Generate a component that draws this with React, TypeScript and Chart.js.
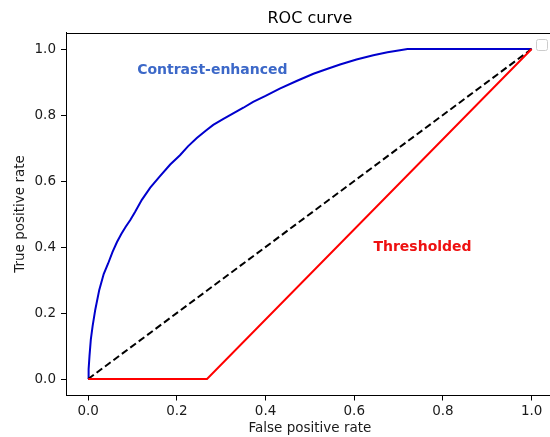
import React, { useEffect, useRef } from "react";
import { Chart, registerables } from "chart.js";

Chart.register(...registerables);

// Contrast-enhanced ROC curve
const ceFpr = [0, 0.001, 0.003, 0.006, 0.01, 0.016, 0.025, 0.035, 0.045, 0.055, 0.065, 0.075, 0.085, 0.095, 0.106, 0.121, 0.14, 0.162, 0.185, 0.207, 0.225, 0.245, 0.265, 0.282, 0.305, 0.327, 0.35, 0.372, 0.4, 0.432, 0.47, 0.508, 0.54, 0.568, 0.605, 0.643, 0.675, 0.703, 0.72, 1.0];
const ceTpr = [0, 0.03, 0.07, 0.12, 0.16, 0.21, 0.27, 0.318, 0.35, 0.385, 0.415, 0.44, 0.462, 0.482, 0.507, 0.543, 0.58, 0.615, 0.65, 0.678, 0.705, 0.73, 0.752, 0.77, 0.788, 0.805, 0.822, 0.84, 0.858, 0.88, 0.903, 0.925, 0.94, 0.953, 0.968, 0.981, 0.99, 0.996, 1.0, 1.0];

// Thresholded ROC
const thFpr = [0, 0.268, 1.0];
const thTpr = [0, 0, 1.0];

// Chance diagonal
const diagX = [0, 1];
const diagY = [0, 1];

const xTicks = [0, 0.2, 0.4, 0.6, 0.8, 1.0];
const yTicks = [0, 0.2, 0.4, 0.6, 0.8, 1.0];

const titleText = "ROC curve";
const labels = [
  { text: "Contrast-enhanced", x: 0.28, y: 0.935, color: "#3c68c8" },
  { text: "Thresholded", x: 0.754, y: 0.398, color: "#ee1111" },
];

const FONT = "'DejaVu Sans', sans-serif";

const toPts = (xs: number[], ys: number[]) => xs.map((x, i) => ({ x, y: ys[i] }));

const decor = {
  id: "decor",
  afterDatasetsDraw(chart: any) {
    const ctx = chart.ctx;
    const { left, right, top } = chart.chartArea;
    const xs = chart.scales.x;
    const ys = chart.scales.y;
    ctx.save();
    // top spine
    ctx.strokeStyle = "#000";
    ctx.lineWidth = 1;
    ctx.beginPath();
    ctx.moveTo(left, Math.round(top) + 0.5);
    ctx.lineTo(right, Math.round(top) + 0.5);
    ctx.stroke();
    // title centred over the axes
    ctx.font = `16px ${FONT}`;
    ctx.fillStyle = "#000";
    ctx.textAlign = "center";
    ctx.textBaseline = "alphabetic";
    ctx.fillText(titleText, (left + right) / 2, 23.3);
    // text annotations
    ctx.font = `bold 14px ${FONT}`;
    ctx.textBaseline = "middle";
    labels.forEach((l) => {
      ctx.fillStyle = l.color;
      ctx.fillText(l.text, xs.getPixelForValue(l.x), ys.getPixelForValue(l.y));
    });
    // empty legend frame
    ctx.fillStyle = "rgba(255,255,255,0.8)";
    ctx.strokeStyle = "#cccccc";
    ctx.lineWidth = 1;
    ctx.beginPath();
    (ctx as any).roundRect(536.5, 39.5, 11, 11, 2);
    ctx.fill();
    ctx.stroke();
    ctx.restore();
  },
};

export default function App() {
  const ref = useRef<HTMLCanvasElement>(null);
  useEffect(() => {
    if (!ref.current) return;
    const chart = new Chart(ref.current, {
      type: "scatter",
      data: {
        datasets: [
          {
            data: toPts(thFpr, thTpr),
            showLine: true,
            borderColor: "#ff0000",
            borderWidth: 2,
            pointRadius: 0,
            order: 0,
          },
          {
            data: toPts(diagX, diagY),
            showLine: true,
            borderColor: "#000000",
            borderWidth: 2,
            borderDash: [7, 3.5],
            pointRadius: 0,
            order: 1,
          },
          {
            data: toPts(ceFpr, ceTpr),
            showLine: true,
            borderColor: "#0000cd",
            borderWidth: 2,
            pointRadius: 0,
            order: 2,
          },
        ],
      },
      options: {
        animation: false,
        responsive: false,
        devicePixelRatio: 1,
        layout: { padding: { left: 0, right: 6.2, top: 32.5, bottom: 0 } },
        plugins: {
          legend: { display: false },
          tooltip: { enabled: false },
          title: { display: false },
        },
        scales: {
          x: {
            type: "linear",
            min: -0.05,
            max: 1.05,
            afterBuildTicks: (s: any) => {
              s.ticks = xTicks.map((v) => ({ value: v }));
            },
            afterFit: (s: any) => {
              s.height = 41.5;
            },
            grid: { drawOnChartArea: false, drawTicks: true, tickLength: 5, color: "#000", tickWidth: 1 },
            border: { display: true, color: "#000", width: 1 },
            ticks: {
              color: "#1a1a1a",
              font: { family: FONT, size: 13.5 },
              padding: 3,
              maxRotation: 0,
              autoSkip: false,
              callback: (v: any) => Number(v).toFixed(1),
            },
            title: {
              display: true,
              text: "False positive rate",
              color: "#1a1a1a",
              font: { family: FONT, size: 13.5 },
              padding: { top: 0, bottom: 0 },
            },
          },
          y: {
            type: "linear",
            min: -0.05,
            max: 1.05,
            afterBuildTicks: (s: any) => {
              s.ticks = yTicks.map((v) => ({ value: v }));
            },
            afterFit: (s: any) => {
              s.width = 66;
            },
            grid: { drawOnChartArea: false, drawTicks: true, tickLength: 5, color: "#000", tickWidth: 1 },
            border: { display: true, color: "#000", width: 1 },
            ticks: {
              color: "#1a1a1a",
              font: { family: FONT, size: 13.5 },
              padding: 5,
              autoSkip: false,
              callback: (v: any) => Number(v).toFixed(1),
            },
            title: {
              display: true,
              text: "True positive rate",
              color: "#1a1a1a",
              font: { family: FONT, size: 13.5 },
              padding: { top: 12.5, bottom: 0 },
            },
          },
        },
      },
      plugins: [decor],
    } as any);
    return () => chart.destroy();
  }, []);

  return (
    <div style={{ position: "absolute", left: 0, top: 0, width: 550, height: 437, overflow: "hidden", background: "#fff" }}>
      <canvas ref={ref} width={560} height={437} style={{ display: "block" }} />
    </div>
  );
}
